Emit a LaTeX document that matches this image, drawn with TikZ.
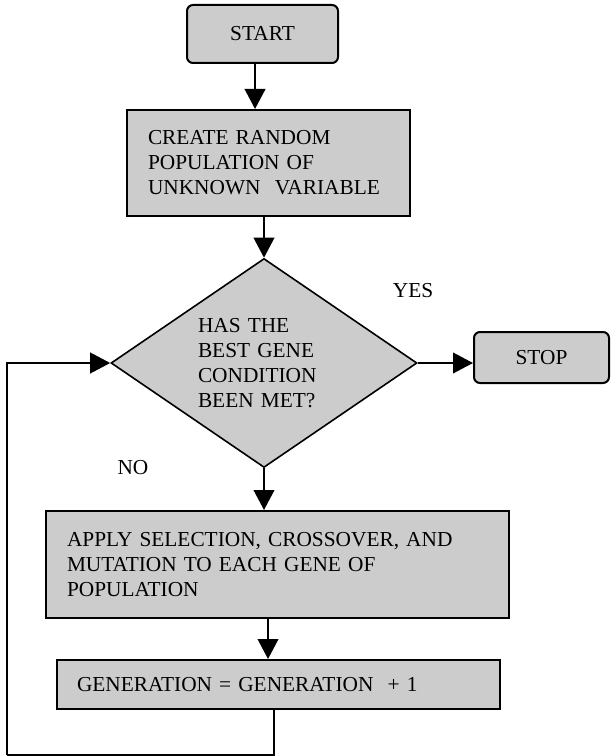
\documentclass[tikz,border=0pt]{standalone}
\usepackage{fontspec}
\setmainfont{Liberation Serif}
\usetikzlibrary{shapes.geometric,arrows.meta}
\definecolor{boxgray}{RGB}{204,204,204}
\begin{document}
\begin{tikzpicture}[x=0.75pt,y=-0.75pt,
  every node/.style={font=\fontsize{16pt}{18.75pt}\selectfont},
  procbox/.style={draw, line width=1.5pt, fill=boxgray, inner ysep=0pt, align=left},
  termbox/.style={draw, line width=1.5pt, fill=boxgray, rounded corners=4.5pt, inner sep=0pt},
  decbox/.style={draw, line width=1.2pt, fill=boxgray, diamond, aspect=1.46, inner sep=0pt,
     minimum width=229.5pt, minimum height=156.75pt, text width=99pt, align=left},
  conn/.style={line width=1.3pt, -{Triangle[length=15pt,width=15.5pt]}},
  plain/.style={line width=1.3pt},
  lbl/.style={inner sep=0pt}
]
\useasboundingbox (0,0) rectangle (610,756);

\node[termbox, minimum width=113.25pt, minimum height=43.5pt] (start) at (262.5,34) {START};

\node[procbox, minimum width=212.25pt, minimum height=79.5pt, inner xsep=15.75pt,
      text width=180.75pt] (create) at (268.5,163)
  {CREATE RANDOM\\POPULATION OF\\UNKNOWN\ \ VARIABLE};

\node[decbox] (dec) at (264,363)
  {HAS THE\\BEST GENE\\CONDITION\\BEEN MET?};

\node[termbox, minimum width=101.25pt, minimum height=38.25pt] (stop) at (541.5,357.5) {STOP};

\node[procbox, minimum width=347.25pt, minimum height=80.25pt, inner xsep=15.75pt,
      text width=315.75pt] (apply) at (277.5,564.5)
  {APPLY SELECTION, CROSSOVER, AND\\MUTATION TO EACH GENE OF\\POPULATION};

\node[procbox, minimum width=332.25pt, minimum height=36.75pt, inner xsep=15pt,
      text width=302.25pt] (gen) at (278.5,684.5)
  {GENERATION = GENERATION\ \ + 1};

\node[lbl] (yes) at (413,291) {YES};
\node[lbl] (no) at (133,468) {NO};

\coordinate (loopcorner) at (7,755);

\draw[conn] ([xshift=-5.6pt]start.south) -- ([xshift=-5.6pt]start.south |- create.north);
\draw[conn] (create.south -| dec.north) -- (dec.north);
\draw[conn] (dec.east) -- (dec.east -| stop.west);
\draw[conn] (dec.south) -- (dec.south |- apply.north);
\draw[conn] ([xshift=-7.1pt]apply.south) -- ([xshift=-7.1pt]apply.south |- gen.north);
\draw[plain] ([xshift=-3.4pt]gen.south) |- (loopcorner);
\draw[conn] (loopcorner) |- (dec.west);
\end{tikzpicture}
\end{document}
